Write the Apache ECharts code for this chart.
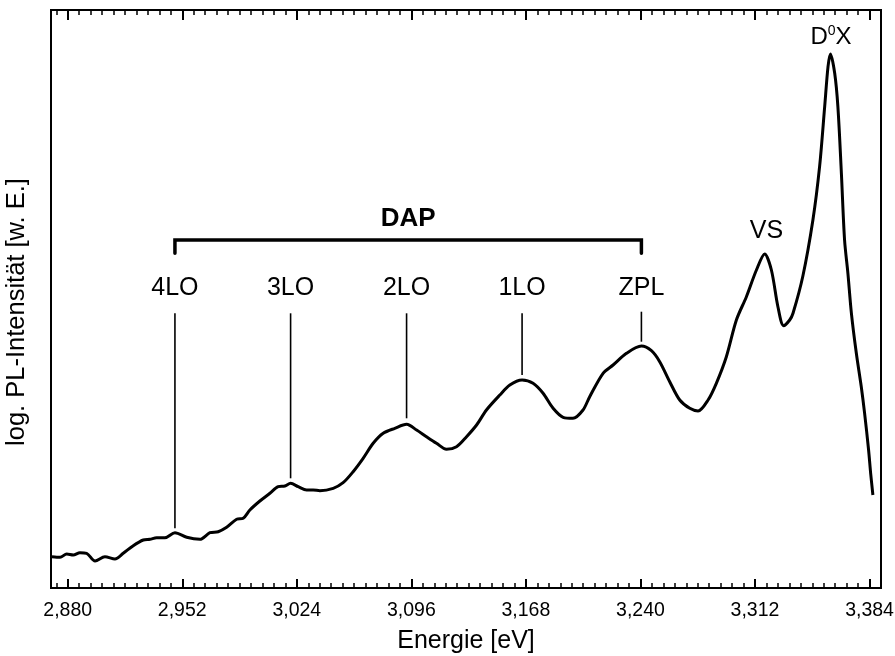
<!DOCTYPE html>
<html>
<head>
<meta charset="utf-8">
<script src="https://cdn.jsdelivr.net/npm/echarts@6/dist/echarts.min.js"></script>
<style>
  html, body { margin: 0; padding: 0; background: #fff; }
  #chart { width: 895px; height: 656px; }
</style>
</head>
<body>
<div id="chart"></div>
<script>
// PL spectrum (log intensity, arbitrary units) versus photon energy in eV
const energy = [
  2.8701, 2.8752, 2.8794, 2.8835, 2.8877, 2.8919, 2.8972, 2.9034, 2.9097, 2.9149,
  2.9212, 2.9275, 2.9317, 2.9359, 2.9411, 2.9474, 2.9548, 2.9631, 2.9694, 2.9746,
  2.9799, 2.9862, 2.9903, 2.9945, 3.0008, 3.0071, 3.0123, 3.0165, 3.0201, 3.0249,
  3.0302, 3.0343, 3.0385, 3.0469, 3.0531, 3.0594, 3.0657, 3.0720, 3.0783, 3.0856,
  3.0930, 3.0993, 3.1055, 3.1118, 3.1181, 3.1244, 3.1307, 3.1370, 3.1432, 3.1516,
  3.1579, 3.1656, 3.1725, 3.1788, 3.1851, 3.1914, 3.1976, 3.2039, 3.2081, 3.2165,
  3.2228, 3.2312, 3.2406, 3.2469, 3.2521, 3.2584, 3.2647, 3.2710, 3.2762, 3.2825,
  3.2877, 3.2940, 3.3003, 3.3066, 3.3129, 3.3181, 3.3223, 3.3264, 3.3300, 3.3338,
  3.3359, 3.3421, 3.3484, 3.3526, 3.3558, 3.3579, 3.3594, 3.3621, 3.3641, 3.3663,
  3.3683, 3.3704, 3.3726, 3.3757, 3.3788, 3.3809, 3.3834, 3.3847, 3.3861
];
const intensity = [
  31.3, 30.7, 34.0, 33.0, 35.3, 34.7, 27.0, 31.3, 29.0, 34.7,
  42.3, 48.0, 48.7, 50.3, 50.3, 55.3, 50.7, 48.7, 55.3, 56.3,
  60.7, 68.7, 69.7, 78.0, 87.0, 94.7, 101.3, 102.0, 104.7, 101.3,
  98.0, 98.0, 97.3, 99.7, 105.3, 116.3, 129.7, 144.7, 154.7, 159.7,
  163.7, 158.0, 151.3, 144.7, 138.7, 141.3, 151.3, 163.0, 178.0, 193.0,
  203.0, 208.0, 204.7, 194.7, 179.7, 170.7, 169.7, 178.0, 191.3, 214.7,
  223.0, 234.7, 242.0, 237.3, 226.3, 206.3, 188.0, 179.7, 177.0, 188.0,
  204.7, 231.3, 268.0, 291.3, 318.0, 334.0, 318.0, 281.3, 262.3, 268.0,
  274.7, 312.0, 368.0, 421.3, 481.3, 521.3, 534.0, 514.7, 481.3, 414.7,
  348.0, 314.7, 274.7, 234.7, 201.3, 174.7, 138.0, 114.7, 93.0
];

// Axis range and tick labels
const xMin = 2.8695;
const xMax = 3.3912;
const yMin = 0;
const yMax = 578;
const majorTicks = [2.880, 2.952, 3.024, 3.096, 3.168, 3.240, 3.312, 3.384];

// DAP phonon replicas: label, peak energy, foot of marker line
const phononLabels = ['4LO', '3LO', '2LO', '1LO', 'ZPL'];
const phononEnergy = [2.9474, 3.0201, 3.0930, 3.1656, 3.2406];
const markerBottom = [59.7, 109.7, 169.7, 213.0, 246.3];
const markerTop = [274.7, 274.7, 274.7, 274.7, 276.3];
const phononLabelLevel = 299.7;

// DAP bracket spanning ZPL .. 4LO
const bracketLevel = 348;
const bracketFoot = 334.7;
const dapLabel = { text: 'DAP', x: 3.0940, y: 369.3 };

// Peak names
const peakNames = ['VS', 'D0X'];
const peakEnergy = [3.3192, 3.3598];
const peakLabelLevel = [357.0, 550.5];

// Minor ticks: ten subdivisions per major interval
const minorTicks = [];
const step = (majorTicks[1] - majorTicks[0]) / 10;
for (let v = majorTicks[0] - step; v <= xMax + 1e-9; v += step) {
  if (v >= xMin) minorTicks.push(+v.toFixed(4));
}

const FONT = "'Liberation Sans', Arial, Helvetica, sans-serif";

const chart = echarts.init(document.getElementById('chart'), null, { renderer: 'canvas' });

function tickAxis(position, values, len, width, labels) {
  return {
    type: 'value',
    position: position,
    min: xMin,
    max: xMax,
    axisLine: { show: false },
    splitLine: { show: false },
    axisTick: {
      show: true,
      inside: true,
      length: len,
      customValues: values,
      lineStyle: { color: '#000', width: width }
    },
    axisLabel: labels ? {
      show: true,
      customValues: majorTicks,
      margin: 13,
      color: '#000',
      fontFamily: FONT,
      fontSize: 19.5,
      formatter: v => v.toFixed(3).replace('.', ',')
    } : { show: false }
  };
}

const xAxes = [
  Object.assign(tickAxis('bottom', majorTicks, 9, 2, true), {
    name: 'Energie [eV]',
    nameLocation: 'middle',
    nameGap: 41,
    nameTextStyle: { color: '#000', fontFamily: FONT, fontSize: 25 }
  }),
  tickAxis('bottom', minorTicks, 5, 1.5, false),
  tickAxis('top', majorTicks, 10, 2, false),
  tickAxis('top', minorTicks, 5, 1.5, false)
];

const textSeries = [
  ...phononLabels.map((t, i) => ({ text: t, x: phononEnergy[i], y: phononLabelLevel, bold: false })),
  { text: dapLabel.text, x: dapLabel.x, y: dapLabel.y, bold: true },
  { text: peakNames[0], x: peakEnergy[0], y: peakLabelLevel[0], bold: false },
  { text: '{m|D}{s|0}{m|X}', x: peakEnergy[1], y: peakLabelLevel[1], bold: false, rich: true }
];

const option = {
  animation: false,
  backgroundColor: '#fff',
  grid: {
    left: 51, right: 14, top: 10, bottom: 68,
    containLabel: false,
    outerBoundsMode: 'none',
    show: true, borderColor: '#000', borderWidth: 2,
    backgroundColor: 'transparent'
  },
  xAxis: xAxes,
  yAxis: {
    type: 'value',
    min: yMin,
    max: yMax,
    axisLine: { show: false },
    axisTick: { show: false },
    axisLabel: { show: false },
    splitLine: { show: false },
    name: 'log. PL-Intensität [w. E.]',
    nameLocation: 'middle',
    nameGap: 21,
    nameTextStyle: { color: '#000', fontFamily: FONT, fontSize: 25.5, padding: [0, 26, 0, 0] }
  },
  series: [
    {
      type: 'line',
      xAxisIndex: 0,
      data: energy.map((e, i) => [e, intensity[i]]),
      showSymbol: false,
      smooth: 0.3,
      lineStyle: { color: '#000', width: 3 },
      z: 5
    },
    {
      // bracket over the DAP replicas
      type: 'line',
      xAxisIndex: 0,
      data: [
        [phononEnergy[0], bracketFoot],
        [phononEnergy[0], bracketLevel],
        [phononEnergy[4], bracketLevel],
        [phononEnergy[4], bracketFoot]
      ],
      showSymbol: false,
      lineStyle: { color: '#000', width: 3.5, cap: 'round', join: 'miter' }
    },
    {
      // marker lines from labels down to the replica maxima
      type: 'custom',
      xAxisIndex: 0,
      data: phononEnergy.map((e, i) => [e, markerBottom[i], markerTop[i]]),
      renderItem: (params, api) => {
        const a = api.coord([api.value(0), api.value(1)]);
        const b = api.coord([api.value(0), api.value(2)]);
        return {
          type: 'line',
          shape: { x1: a[0], y1: a[1], x2: b[0], y2: b[1] },
          style: { stroke: '#000', lineWidth: 1.6 }
        };
      }
    },
    {
      type: 'custom',
      xAxisIndex: 0,
      data: textSeries.map(t => [t.x, t.y]),
      renderItem: (params, api) => {
        const t = textSeries[params.dataIndex];
        const p = api.coord([api.value(0), api.value(1)]);
        const style = {
          text: t.text,
          x: p[0],
          y: p[1],
          align: 'center',
          verticalAlign: 'middle',
          fill: '#000',
          fontFamily: FONT,
          fontSize: t.bold ? 26 : 25,
          fontWeight: t.bold ? 'bold' : 'normal'
        };
        if (t.rich) {
          style.rich = {
            m: { fontFamily: FONT, fontSize: 24, fill: '#000', color: '#000' },
            s: { fontFamily: FONT, fontSize: 14, fill: '#000', color: '#000', padding: [0, 0, 13, 0] }
          };
        }
        return { type: 'text', style: style };
      }
    }
  ]
};

chart.setOption(option);
</script>
</body>
</html>
